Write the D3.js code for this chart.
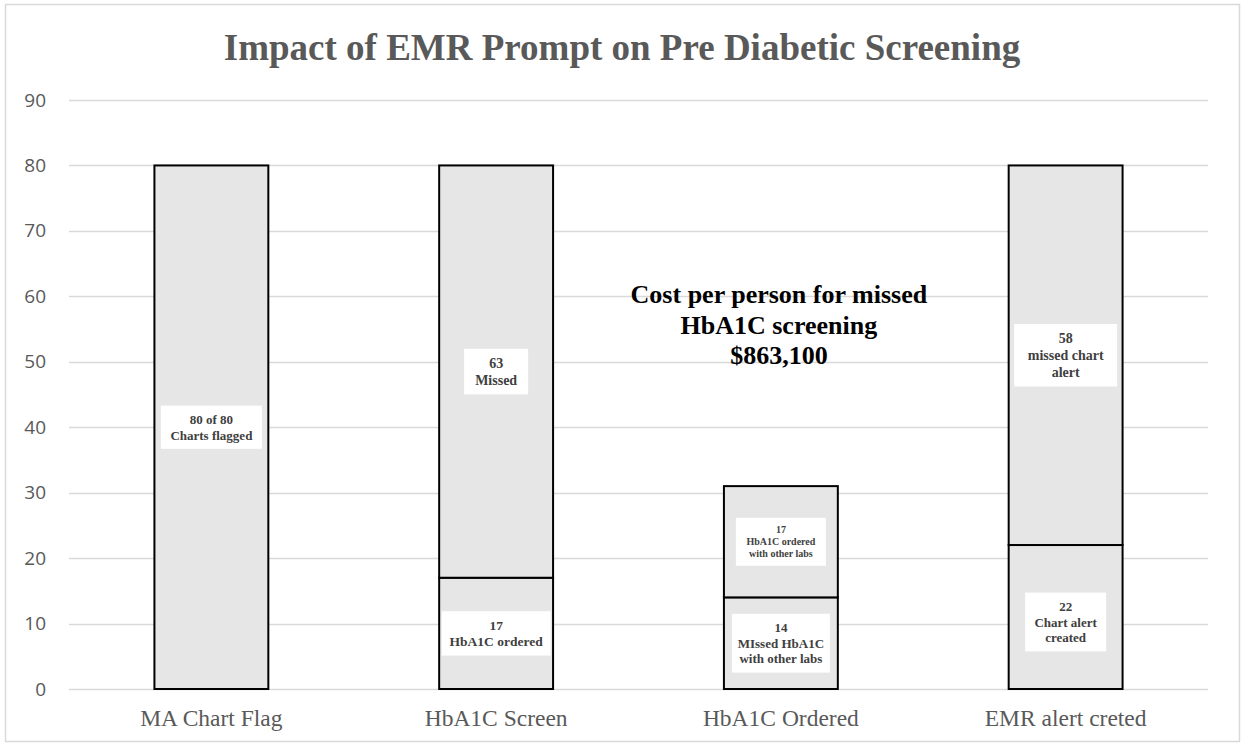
<!DOCTYPE html>
<html lang="en">
  <head>
    <meta charset="UTF-8" />
    <title>Impact of EMR Prompt on Pre Diabetic Screening</title>
    <script src="https://cdn.jsdelivr.net/npm/d3@7.6.1/dist/d3.min.js"></script>
    <style>
      body { margin: 0; background: #fff; }
      svg { display: block; }
    </style>
  </head>
  <body>
    <div id="box"></div>
    <script>
      const width = 1246;
      const height = 746;

      // data
      const categories = ['MA Chart Flag', 'HbA1C Screen', 'HbA1C Ordered', 'EMR alert creted'];
      const bottomValues = [80, 17, 14, 22];
      const topValues = [0, 63, 17, 58];
      const bottomLabels = [
        ['80 of 80', 'Charts flagged'],
        ['17', 'HbA1C ordered'],
        ['14', 'MIssed HbA1C', 'with other labs'],
        ['22', 'Chart alert', 'created']
      ];
      const topLabels = [
        null,
        ['63', 'Missed'],
        ['17', 'HbA1C ordered', 'with other labs'],
        ['58', 'missed chart', 'alert']
      ];
      const yTicks = [0, 10, 20, 30, 40, 50, 60, 70, 80, 90];
      const noteLines = ['Cost per person for missed', 'HbA1C screening', '$863,100'];

      const margin = {left: 69, right: 38, top: 100, bottom: 57};
      const serif = 'Liberation Serif, Times New Roman, serif';

      const svg = d3.select('#box').append('svg').attr('width', width).attr('height', height);

      // chart frame
      svg.append('rect')
        .attr('x', 5.5).attr('y', 4.5)
        .attr('width', 1234).attr('height', 737)
        .attr('fill', '#fff').attr('stroke', '#d9d9d9').attr('stroke-width', 1.5);

      const x = d3.scaleBand()
        .domain(categories)
        .range([margin.left, width - margin.right])
        .paddingInner(0.6).paddingOuter(0.3);

      const y = d3.scaleLinear()
        .domain([0, 90])
        .range([height - margin.bottom, margin.top]);

      // grid
      svg.append('g')
        .selectAll('line')
        .data(yTicks)
        .join('line')
        .attr('x1', margin.left).attr('x2', width - margin.right)
        .attr('y1', d => Math.round(y(d)) + 0.5).attr('y2', d => Math.round(y(d)) + 0.5)
        .attr('stroke', '#d9d9d9').attr('stroke-width', 1.3);

      // y axis labels
      const yAxis = d3.axisLeft(y).tickValues(yTicks).tickSize(0).tickPadding(0);
      svg.append('g')
        .attr('transform', `translate(46,0)`)
        .call(yAxis)
        .call(g => g.select('.domain').remove())
        .selectAll('text')
        .attr('font-family', 'Open Sans, DejaVu Sans, sans-serif')
        .attr('font-size', 19)
        .attr('fill', '#595959');

      // x axis labels
      const xAxis = d3.axisBottom(x).tickSize(0).tickPadding(20);
      svg.append('g')
        .attr('transform', `translate(0,${height - margin.bottom})`)
        .call(xAxis)
        .call(g => g.select('.domain').remove())
        .selectAll('text')
        .attr('font-family', serif)
        .attr('font-size', 23.5)
        .attr('fill', '#595959');

      // bars
      const segs = [];
      categories.forEach((c, i) => {
        segs.push({c, y0: 0, y1: bottomValues[i], label: bottomLabels[i], i, part: 'b'});
        if (topValues[i] > 0) {
          segs.push({c, y0: bottomValues[i], y1: bottomValues[i] + topValues[i], label: topLabels[i], i, part: 't'});
        }
      });

      svg.append('g')
        .selectAll('rect')
        .data(segs)
        .join('rect')
        .attr('x', d => x(d.c))
        .attr('y', d => y(d.y1))
        .attr('width', x.bandwidth())
        .attr('height', d => y(d.y0) - y(d.y1))
        .attr('fill', '#e6e6e6')
        .attr('stroke', '#000')
        .attr('stroke-width', 2);

      // label boxes
      const labelSize = {'0b': 13, '1t': 14, '1b': 13.5, '2t': 10, '2b': 13, '3t': 14, '3b': 13};
      const labelBoxW = {'0b': 101, '1t': 64, '1b': 109, '2t': 90, '2b': 98, '3t': 103, '3b': 81};
      const labelDy = {'0b': 0, '1t': 0, '1b': 0, '2t': 0, '2b': 0, '3t': 0, '3b': 5};
      const labels = svg.append('g')
        .selectAll('g')
        .data(segs.filter(d => d.label))
        .join('g')
        .attr('transform', d => `translate(${x(d.c) + x.bandwidth() / 2},${y((d.y0 + d.y1) / 2) + labelDy[d.i + d.part]})`);

      labels.each(function (d) {
        const key = d.i + d.part;
        const fs = labelSize[key];
        const lh = fs * 1.2;
        const h = d.label.length * lh + 12;
        const w = labelBoxW[key];
        const g = d3.select(this);
        g.append('rect')
          .attr('x', -w / 2).attr('y', -h / 2)
          .attr('width', w).attr('height', h)
          .attr('fill', '#fff');
        g.append('text')
          .attr('text-anchor', 'middle')
          .attr('font-family', serif)
          .attr('font-weight', 'bold')
          .attr('font-size', fs)
          .attr('fill', '#404040')
          .selectAll('tspan')
          .data(d.label)
          .join('tspan')
          .attr('x', 0)
          .attr('y', (t, k) => (k - (d.label.length - 1) / 2) * lh + fs * 0.35)
          .text(t => t);
      });

      // annotation
      svg.append('text')
        .attr('text-anchor', 'middle')
        .attr('font-family', serif)
        .attr('font-weight', 'bold')
        .attr('font-size', 26)
        .attr('fill', '#000')
        .selectAll('tspan')
        .data(noteLines)
        .join('tspan')
        .attr('x', x(categories[2]) + x.bandwidth() / 2 - 2)
        .attr('y', (t, k) => 303 + k * 30.5)
        .text(t => t);

      // title
      svg.append('text')
        .attr('x', width / 2 - 1)
        .attr('y', 60)
        .attr('text-anchor', 'middle')
        .attr('font-family', serif)
        .attr('font-weight', 'bold')
        .attr('font-size', 37)
        .attr('fill', '#595959')
        .text('Impact of EMR Prompt on Pre Diabetic Screening');
    </script>
  </body>
</html>
